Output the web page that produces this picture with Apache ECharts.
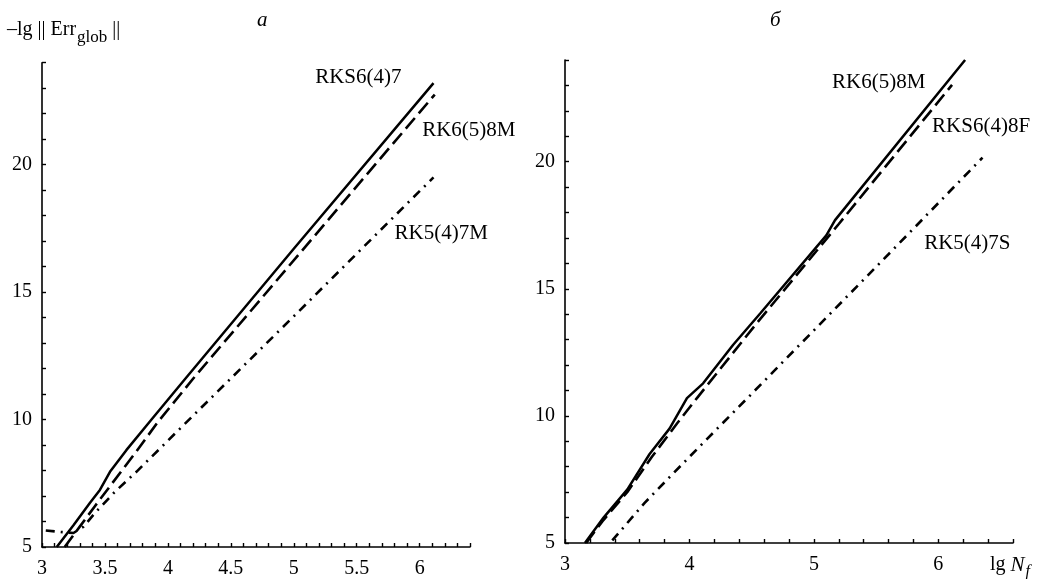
<!DOCTYPE html>
<html><head><meta charset="utf-8">
<script src="https://cdn.jsdelivr.net/npm/echarts@6/dist/echarts.min.js"></script>
<style>html,body{margin:0;padding:0;background:#fff}#c{width:1047px;height:579px}</style>
</head><body><div id="c"></div>
<script>
// ---------- data (lg N_f , -lg||Err_glob||) ----------
const leftSolidRKS647 = [[3.117,5.0],[3.25,5.85],[3.38,6.73],[3.46,7.24],[3.54,7.95],[3.67,8.8],[3.87,10.0],[4.13,11.55],[5.0,16.7],[6.11,23.2]];
const leftDashedRK658M = [[3.18,5.0],[3.30,5.8],[3.42,6.6],[3.55,7.45],[3.75,8.75],[3.92,9.9],[4.2,11.6],[6.12,22.75]];
const leftDashDotRK547M = [[3.03,5.65],[3.17,5.58],[3.25,5.55],[3.33,5.8],[3.42,6.33],[3.58,7.17],[3.75,7.95],[4.2,10.15],[5.0,14.05],[6.11,19.5]];

const rightSolidRK658M = [[3.16,5.0],[3.31,6.0],[3.5,7.1],[3.68,8.5],[3.84,9.5],[3.98,10.7],[4.11,11.28],[4.35,12.79],[4.57,14.04],[5.1,17.1],[5.17,17.7],[6.215,24.0]];
const rightDashedRKS648F = [[3.17,5.0],[3.3,5.85],[3.5,7.0],[3.7,8.4],[3.9,9.7],[4.07,10.76],[4.53,13.58],[5.2,17.55],[6.11,23.02]];
const rightDashDotRK547S = [[3.38,5.1],[3.64,6.58],[3.98,8.29],[4.49,10.82],[5.68,16.76],[6.355,20.16]];

const leftSeriesNames = ['RKS6(4)7','RK6(5)8M','RK5(4)7M'];
const rightSeriesNames = ['RK6(5)8M','RKS6(4)8F','RK5(4)7S'];

const leftXTickLabels = ['3','3.5','4','4.5','5','5.5','6'];
const rightXTickLabels = ['3','4','5','6'];
const yTickLabels = ['5','10','15','20'];
const panelTitles = ['а','б'];

// ---------- layout / style ----------
const FONT = '"Liberation Serif","Times New Roman",serif';
const leftLabelAnchor = [[5.17,23.43],[6.02,21.35],[5.8,17.31]];
const rightLabelAnchor = [[5.146,23.1],[5.95,21.37],[5.886,16.8]];
const styles = [
  {type:'solid', width:2.5},
  {type:[14,6], width:2.6},
  {type:[9,6,2,6], width:2.6}
];

function fmt(list){ return v => { const s = String(+(+v).toFixed(2)); return list.indexOf(s) >= 0 ? s : ''; }; }

function xAxis(grid, max, interval, labels){
  return {type:'value', gridIndex:grid, min:3, max:max, interval:interval,
    axisLine:{lineStyle:{color:'#000', width:1.6}},
    axisTick:{inside:true, length:4, lineStyle:{color:'#000', width:1.4}},
    axisLabel:{formatter:fmt(labels), color:'#000', fontSize:20, fontFamily:FONT, margin:12, showMinLabel:true, showMaxLabel:true},
    splitLine:{show:false}};
}
function yAxis(grid){
  return {type:'value', gridIndex:grid, min:5, max:24, interval:1,
    axisLine:{show:true, lineStyle:{color:'#000', width:1.6}},
    axisTick:{show:true, inside:true, length:4, lineStyle:{color:'#000', width:1.4}},
    axisLabel:{formatter:fmt(yTickLabels), color:'#000', fontSize:20, fontFamily:FONT, margin:10, showMinLabel:true},
    splitLine:{show:false}};
}
function mkSeries(grid, data, i, name, anchor){
  return {type:'line', name:name, xAxisIndex:grid, yAxisIndex:grid, data:data, symbol:'none',
    lineStyle:{color:'#000', width:styles[i].width, type:styles[i].type, cap:'butt'},
    markPoint:{symbol:'circle', symbolSize:0, silent:true,
      label:{show:true, position:'right', distance:0, formatter:name, color:'#000', fontSize:21, fontFamily:FONT},
      data:[{coord:anchor}]}};
}

const chart = echarts.init(document.getElementById('c'), null, {renderer:'canvas'});

const ctx = document.createElement('canvas').getContext('2d');
function w(text, font){ ctx.font = font; return ctx.measureText(text).width; }
const f1 = '20px ' + FONT, fSub = '17px ' + FONT, fIt = 'italic 21px ' + FONT, fItSub = 'italic 16px ' + FONT;
const yl1 = '–lg || Err', yl2 = 'glob', yl3 = ' ||';
const x0 = 7, w1 = w(yl1, f1), w2 = w(yl2, fSub);
const xl1 = 'lg ', xl2 = 'N', xl3 = 'f';
const xx0 = 990, xw1 = w(xl1, f1), xw2 = w(xl2, fIt);

chart.setOption({
  animation:false,
  backgroundColor:'#fff',
  grid:[
    {left:42, top:62.7, width:428, height:484.3},
    {left:565, top:60, width:448, height:483}
  ],
  xAxis:[xAxis(0, 6.4, 0.1, leftXTickLabels), xAxis(1, 6.6, 0.2, rightXTickLabels)],
  yAxis:[yAxis(0), yAxis(1)],
  series:[
    mkSeries(0, leftSolidRKS647, 0, leftSeriesNames[0], leftLabelAnchor[0]),
    mkSeries(0, leftDashedRK658M, 1, leftSeriesNames[1], leftLabelAnchor[1]),
    mkSeries(0, leftDashDotRK547M, 2, leftSeriesNames[2], leftLabelAnchor[2]),
    mkSeries(1, rightSolidRK658M, 0, rightSeriesNames[0], rightLabelAnchor[0]),
    mkSeries(1, rightDashedRKS648F, 1, rightSeriesNames[1], rightLabelAnchor[1]),
    mkSeries(1, rightDashDotRK547S, 2, rightSeriesNames[2], rightLabelAnchor[2])
  ],
  graphic:[
    {type:'text', x:257, y:20, style:{text:panelTitles[0], font:fIt, fill:'#000', textVerticalAlign:'middle'}},
    {type:'text', x:770, y:20, style:{text:panelTitles[1], font:fIt, fill:'#000', textVerticalAlign:'middle'}},
    {type:'text', x:x0, y:30, style:{text:yl1, font:f1, fill:'#000', textVerticalAlign:'middle'}},
    {type:'text', x:x0 + w1 + 1, y:38, style:{text:yl2, font:fSub, fill:'#000', textVerticalAlign:'middle'}},
    {type:'text', x:x0 + w1 + w2 + 1, y:30, style:{text:yl3, font:f1, fill:'#000', textVerticalAlign:'middle'}},
    {type:'text', x:xx0, y:565, style:{text:xl1, font:f1, fill:'#000', textVerticalAlign:'middle'}},
    {type:'text', x:xx0 + xw1, y:565, style:{text:xl2, font:fIt, fill:'#000', textVerticalAlign:'middle'}},
    {type:'text', x:xx0 + xw1 + xw2 + 1, y:572, style:{text:xl3, font:fItSub, fill:'#000', textVerticalAlign:'middle'}}
  ]
});
</script>
</body></html>
